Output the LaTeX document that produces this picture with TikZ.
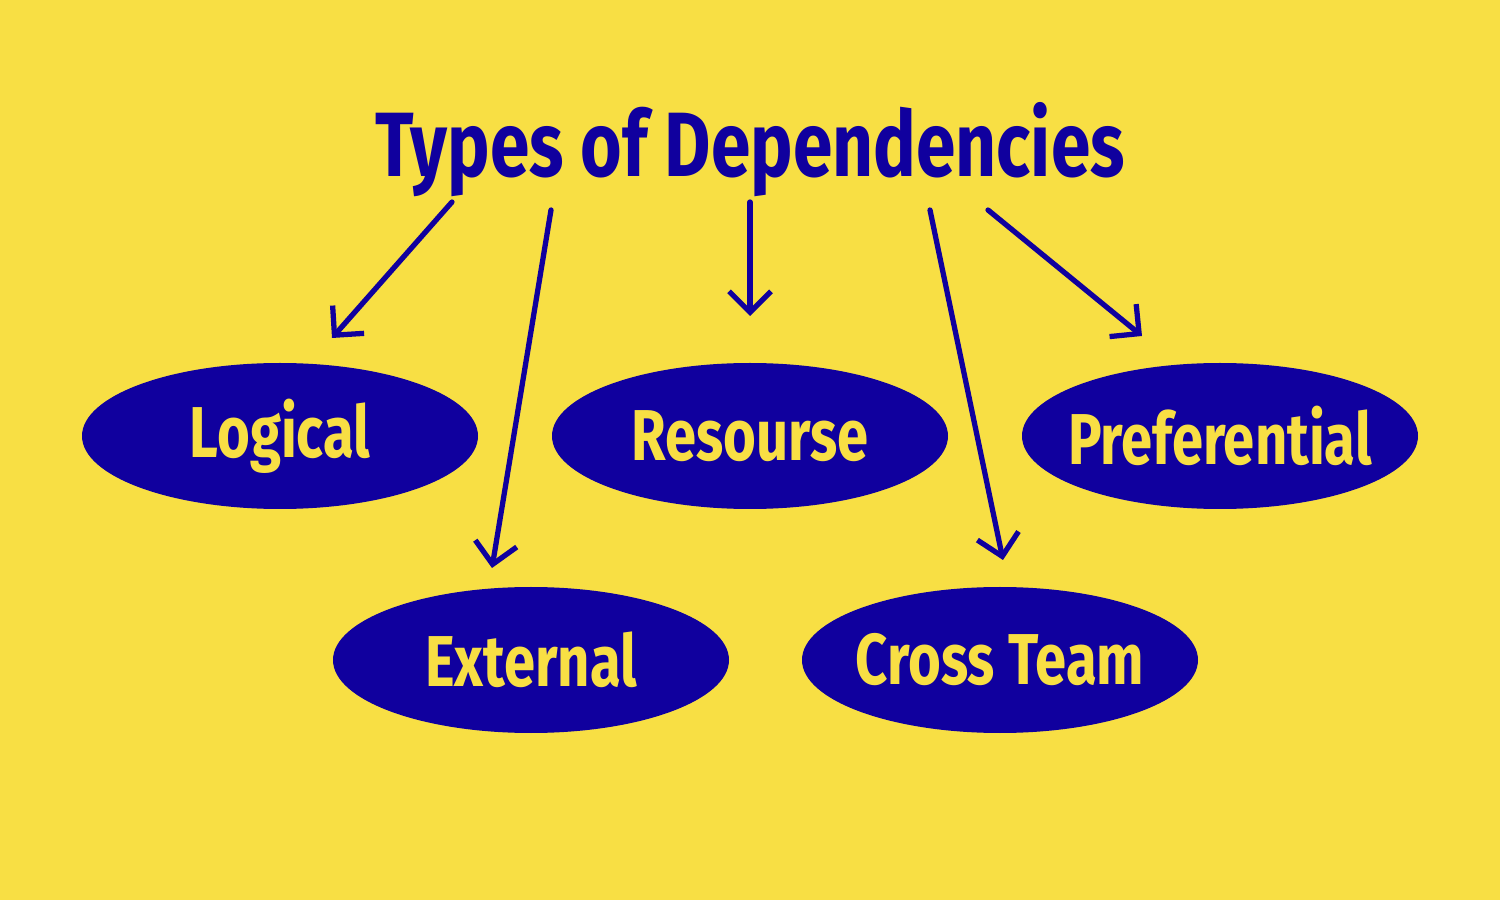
\documentclass[tikz,border=0pt]{standalone}
\usepackage{fontspec}
\usetikzlibrary{arrows.meta,positioning,shapes.geometric}
\newfontfamily\diagfont[FakeStretch=0.78]{Fira Sans}
\definecolor{depblue}{RGB}{16,0,158}
\definecolor{depyellow}{RGB}{248,223,68}
\tikzset{
  typebox/.style={ellipse, fill=depblue, draw=none, inner ysep=0pt, inner xsep=-8mm,
    minimum width=3.96cm, minimum height=1.46cm,
    font=\diagfont\bfseries\fontsize{20.5}{22}\selectfont, text=depyellow},
  branch/.style={-{Straight Barb[length=2.1mm, width=4.2mm]}, line width=1.5pt,
    draw=depblue, line cap=round}
}

\begin{document}
\begin{tikzpicture}
    \fill[depyellow] (0,0) rectangle (15,9);
    \useasboundingbox (0,0) rectangle (15,9);

    \node[font=\diagfont\bfseries\fontsize{26}{29}\selectfont, text=depblue]
      (title) at (7.50,7.50) {Types of Dependencies};

    \node[typebox] (logical) at (2.80,4.64) {Logical};
    \node[typebox] (resourse) at (7.50,4.64) {Resourse};
    \node[typebox] (pref) at (12.20,4.64) {Preferential};
    \node[typebox] (external) at (5.31,2.40) {External};
    \node[typebox] (crossteam) at (10.00,2.40) {Cross Team};

    % arrow ends
    \coordinate (a1) at (4.52,6.98);
    \coordinate (b1) at (3.32,5.62);
    \coordinate (a2) at (5.51,6.90);
    \coordinate (b2) at (4.92,3.32);
    \coordinate (a3) at (7.50,6.98);
    \coordinate (b3) at (7.50,5.84);
    \coordinate (a4) at (9.30,6.90);
    \coordinate (b4) at (10.03,3.40);
    \coordinate (a5) at (9.88,6.90);
    \coordinate (b5) at (11.42,5.64);

    \draw[branch] (a1) -- (b1);
    \draw[branch] (a2) -- (b2);
    \draw[branch] (a3) -- (b3);
    \draw[branch] (a4) -- (b4);
    \draw[branch] (a5) -- (b5);
  \end{tikzpicture}
\end{document}
